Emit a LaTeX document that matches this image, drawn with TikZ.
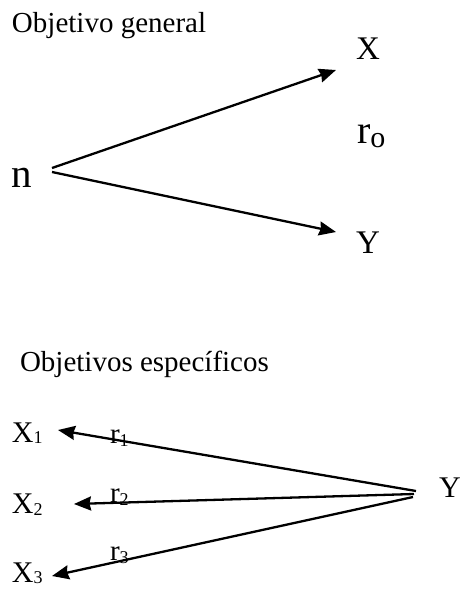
\documentclass[tikz,border=0pt]{standalone}
\usepackage{fontspec}
\setmainfont{Liberation Serif}
\usetikzlibrary{arrows.meta}
\newcommand\myfs[1]{\fontsize{#1}{#1}\selectfont}
\begin{document}
\begin{tikzpicture}[x=1pt,y=-1pt,
  txt/.style={inner sep=0pt, outer sep=0pt, anchor=base west},
  conn/.style={line width=2.3pt, -{Stealth[length=17pt,width=14pt,inset=1.5pt]}}
  ]
\useasboundingbox[fill=white] (0,0) rectangle (462,591);
% --- top: general objective
\node[txt] (tg) at (12,33) {\myfs{29}Objetivo general};
\node[txt] (n) at (12,187) {\myfs{41}n};
\node[txt] (X) at (356,60) {\myfs{33}X};
\node[txt] (Y) at (356,253) {\myfs{33}Y};
\node[txt] (ro) at (357,143) {\myfs{40}r\raisebox{-4pt}{\myfs{30}o}};
\coordinate (nA) at (52,168);
\coordinate (nB) at (52,172);
\coordinate (Xin) at (336,70);
\coordinate (Yin) at (336,232);
\draw[conn] (nA) -- (Xin);
\draw[conn] (nB) -- (Yin);
% --- bottom: specific objectives
\node[txt] (te) at (20,371) {\myfs{29}Objetivos específicos};
\node[txt] (X1) at (12,442) {\myfs{30}X\raisebox{-1.5pt}{\myfs{18}1}};
\node[txt] (X2) at (12,513) {\myfs{30}X\raisebox{-2.5pt}{\myfs{18}2}};
\node[txt] (X3) at (12,582) {\myfs{30}X\raisebox{-1.5pt}{\myfs{18}3}};
\node[txt] (Yb) at (439,497) {\myfs{30}Y};
\node[txt] (r1) at (110,443) {\myfs{29}r\raisebox{-3pt}{\myfs{18}1}};
\node[txt] (r2) at (110,502) {\myfs{29}r\raisebox{-3pt}{\myfs{18}2}};
\node[txt] (r3) at (110,560) {\myfs{29}r\raisebox{-3pt}{\myfs{18}3}};
\coordinate (yA) at (416,491);
\coordinate (yB) at (414,494);
\coordinate (yC) at (413,497);
\coordinate (x1in) at (58,430);
\coordinate (x2in) at (74,504);
\coordinate (x3in) at (52,576);
\draw[conn] (yA) -- (x1in);
\draw[conn] (yB) -- (x2in);
\draw[conn] (yC) -- (x3in);
\end{tikzpicture}
\end{document}
